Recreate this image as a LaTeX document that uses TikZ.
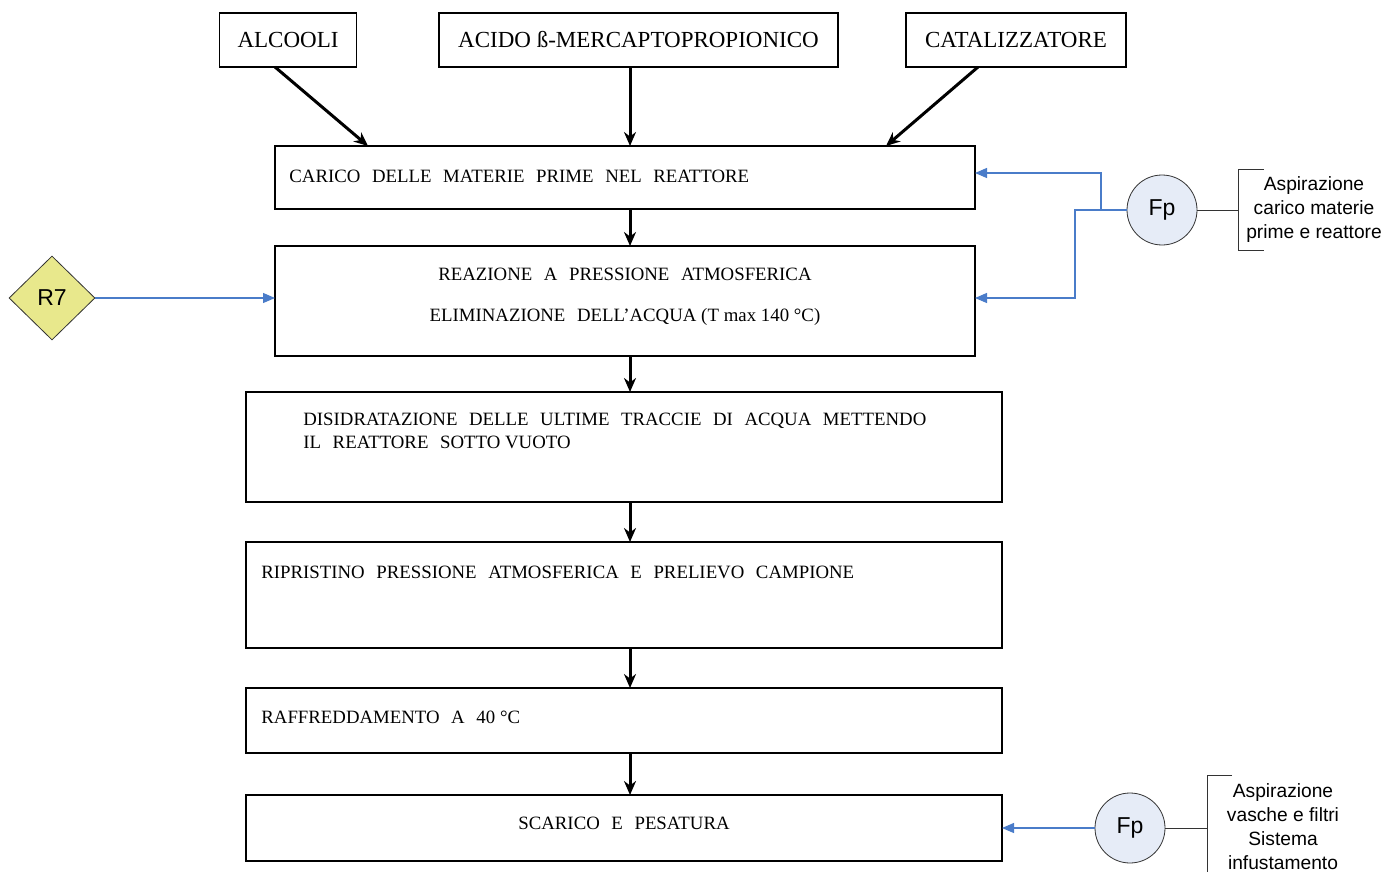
\documentclass[tikz,border=0pt]{standalone}
\usepackage{fontspec}
\setmainfont{Liberation Serif}
\setsansfont{Liberation Sans}
\usetikzlibrary{arrows.meta,shapes.geometric}
\definecolor{flowblue}{HTML}{4A7CC9}
\definecolor{fpfill}{HTML}{E6ECF7}
\definecolor{rfill}{HTML}{E8E88C}
\newcommand\stepfont{\fontsize{9.4}{11.5}\selectfont\spaceskip=5.8pt plus 1pt\relax}
\newcommand\nsp{\hspace{2.4pt}}
\begin{document}
\begin{tikzpicture}[x=0.5pt, y=-0.5pt,
        box/.style = {draw, line width=0.8pt, inner sep=0pt, outer sep=0pt},
        head/.style = {font=\fontsize{11.5}{13}\selectfont},
        txt/.style = {inner sep=0pt, anchor=west, align=left, font=\stepfont},
        flow/.style = {line width=1.5pt, -{Stealth[length=7pt,width=6pt]}},
        suck/.style = {flowblue, line width=0.6pt, -{Triangle[length=6pt,width=5pt]}},
        fp/.style = {circle, draw=black!80, fill=fpfill, minimum size=35pt,
            inner sep=0pt, font=\sffamily\fontsize{11.5}{13}\selectfont},
        note/.style = {align=center, inner sep=0pt,
            font=\sffamily\fontsize{9.6}{12}\selectfont}]
    \useasboundingbox (0,0) rectangle (1387,872);
    % raw materials
    \node[box, head, minimum width=68.5pt, minimum height=27pt] (alc) at (288,40) {ALCOOLI};
    \node[box, head, minimum width=199.5pt, minimum height=27pt] (acido) at (638.5,40) {ACIDO ß-MERCAPTOPROPIONICO};
    \node[box, head, minimum width=110pt, minimum height=27pt] (cat) at (1016,40) {CATALIZZATORE};
    % process steps
    \node[box, minimum width=350pt, minimum height=31.5pt] (carico) at (625,177.5) {};
    \node[box, minimum width=350pt, minimum height=55pt] (reaz) at (625,301) {};
    \node[box, minimum width=378pt, minimum height=55pt] (disid) at (624,447) {};
    \node[box, minimum width=378pt, minimum height=53pt] (ripr) at (624,595) {};
    \node[box, minimum width=378pt, minimum height=32.5pt] (raffr) at (624,720.5) {};
    \node[box, minimum width=378pt, minimum height=33pt] (scar) at (624,828) {};
    \node[txt] (tcarico) at (289,176) {CARICO DELLE MATERIE PRIME NEL REATTORE};
    \node[txt, anchor=center, align=center] (treaz) at (625,297)
        {REAZIONE A PRESSIONE ATMOSFERICA\\[9pt]ELIMINAZIONE DELL’ACQUA\nsp(T\nsp max\nsp 140\nsp °C)};
    \node[txt, anchor=north west] (tdisid) at (303,413)
        {DISIDRATAZIONE DELLE ULTIME TRACCIE DI ACQUA METTENDO\\IL REATTORE SOTTO\nsp VUOTO};
    \node[txt] (tripr) at (261,572) {RIPRISTINO PRESSIONE ATMOSFERICA E PRELIEVO CAMPIONE};
    \node[txt] (traffr) at (261,717) {RAFFREDDAMENTO A 40\nsp °C};
    \node[txt, anchor=center] (tscar) at (624,823) {SCARICO E PESATURA};
    % main flow
    \coordinate (ax) at (630,0);
    \coordinate (aa) at (275,0);
    \coordinate (ab) at (368,0);
    \coordinate (ac) at (978,0);
    \coordinate (ad) at (886,0);
    \draw[flow] (alc.south -| aa) -- (carico.north -| ab);
    \draw[flow] (acido.south -| ax) -- (carico.north -| ax);
    \draw[flow] (cat.south -| ac) -- (carico.north -| ad);
    \draw[flow] (carico.south -| ax) -- (reaz.north -| ax);
    \draw[flow] (reaz.south -| ax) -- (disid.north -| ax);
    \draw[flow] (disid.south -| ax) -- (ripr.north -| ax);
    \draw[flow] (ripr.south -| ax) -- (raffr.north -| ax);
    \draw[flow] (raffr.south -| ax) -- (scar.north -| ax);
    % R7
    \node[diamond, draw=black!80, fill=rfill, minimum width=43pt, minimum height=42pt,
        inner sep=0pt, font=\sffamily\fontsize{11.5}{13}\selectfont] (r7) at (52,298) {R7};
    \draw[suck] (r7.east) -- (reaz.west |- r7.east);
    % aspiration 1
    \node[fp] (fp1) at (1162,210) {Fp};
    \coordinate (j1) at (1101,210);
    \coordinate (j2) at (1075,210);
    \coordinate (y1) at (0,173);
    \coordinate (y2) at (0,298);
    \draw[suck] (fp1.west) -- (j1) |- (carico.east |- y1);
    \draw[suck] (j1) -- (j2) |- (reaz.east |- y2);
    \coordinate (k1) at (1238,210);
    \draw[black!80, line width=0.5pt] (fp1.east) -- (k1);
    \draw[black!80, line width=0.5pt] (1264,170) -- (1238,170) -- (1238,250) -- (1264,250);
    \node[note] (n1) at (1314,210) {Aspirazione\\carico materie\\prime e reattore};
    % aspiration 2
    \node[fp] (fp2) at (1130,828) {Fp};
    \draw[suck] (fp2.west) -- (scar.east);
    \coordinate (k2) at (1207,828);
    \draw[black!80, line width=0.5pt] (fp2.east) -- (k2);
    \draw[black!80, line width=0.5pt] (1232,775) -- (1207,775) -- (1207,872);
    \node[note] (n2) at (1283,827) {Aspirazione\\vasche e filtri\\Sistema\\infustamento};
\end{tikzpicture}
\end{document}
